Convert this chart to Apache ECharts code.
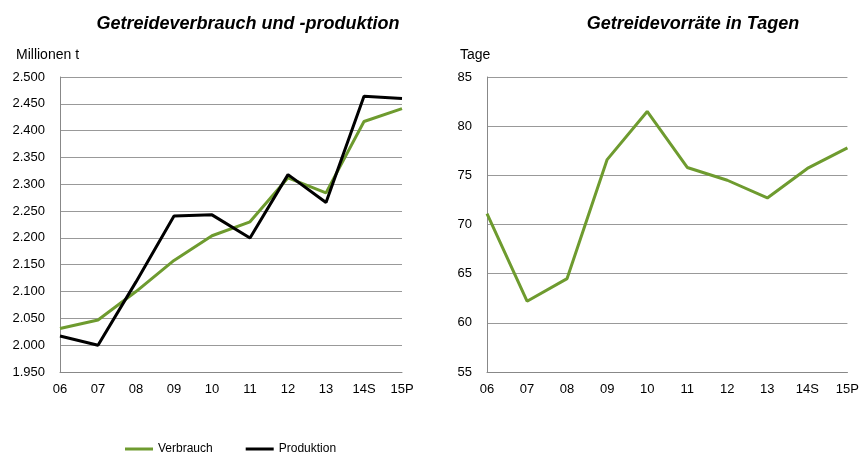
<!DOCTYPE html>
<html lang="de">
<head>
    <meta charset="UTF-8">
    <title>Getreide</title>
    <style>
        body { margin: 0; background: #fff; }
        #main { width: 862px; height: 457px; }
    </style>
</head>
<body>
<div id="main"></div>
<script src="https://cdn.jsdelivr.net/npm/echarts@6/dist/echarts.min.js"></script>
<script>
    // Daten
    var jahre = ['06', '07', '08', '09', '10', '11', '12', '13', '14S', '15P'];
    var verbrauch = [2.031, 2.047, 2.100, 2.158, 2.204, 2.230, 2.312, 2.284, 2.417, 2.441];
    var produktion = [2.017, 2.000, 2.118, 2.241, 2.243, 2.200, 2.318, 2.266, 2.464, 2.460];
    var vorraeteTage = [71.1, 62.2, 64.5, 76.6, 81.5, 75.8, 74.5, 72.7, 75.7, 77.8];

    var gruen = '#6e9b2f';
    var font = 'Liberation Sans, Arial, sans-serif';

    var chart = echarts.init(document.getElementById('main'));

    function xAchse(idx) {
        return {
            type: 'category', gridIndex: idx, data: jahre, boundaryGap: false,
            axisLine: { lineStyle: { color: '#888', width: 1 } },
            axisTick: { show: false },
            axisLabel: { color: '#000', fontFamily: font, fontSize: 13, margin: 11 }
        };
    }

    function yAchse(idx, min, max, interval, fmt, margin) {
        return {
            type: 'value', gridIndex: idx, min: min, max: max, interval: interval,
            axisLine: { show: true, lineStyle: { color: '#888', width: 1 } },
            axisTick: { show: false },
            splitLine: { lineStyle: { color: '#999', width: 1 } },
            axisLabel: { color: '#000', fontFamily: font, fontSize: 13, margin: margin, formatter: fmt }
        };
    }

    var titelStil = { fontSize: 18, fontWeight: 'bold', fontStyle: 'italic', color: '#000', fontFamily: font };
    var nameStil = { fontSize: 14, fontWeight: 'normal', color: '#000', fontFamily: font };

    var option = {
        animation: false,
        textStyle: { fontFamily: font },
        title: [
            { text: 'Getreideverbrauch und -produktion', left: 243, top: 10, textAlign: 'center', textStyle: titelStil },
            { text: 'Getreidevorräte in Tagen', left: 688, top: 10, textAlign: 'center', textStyle: titelStil },
            { text: 'Millionen t', left: 11, top: 43, textStyle: nameStil },
            { text: 'Tage', left: 455, top: 43, textStyle: nameStil }
        ],
        legend: {
            left: 120, top: 438, icon: 'rect', itemWidth: 28, itemHeight: 3, itemGap: 33,
            textStyle: { fontSize: 12, color: '#000', fontFamily: font },
            data: ['Verbrauch', 'Produktion']
        },
        grid: [
            { left: 60, right: 460, top: 77, bottom: 85 },
            { left: 487, right: 14, top: 77, bottom: 85 }
        ],
        xAxis: [xAchse(0), xAchse(1)],
        yAxis: [
            yAchse(0, 1.95, 2.5, 0.05, function (v) { return v.toFixed(3); }, 15),
            yAchse(1, 55, 85, 5, '{value}', 15)
        ],
        series: [
            { name: 'Verbrauch', type: 'line', xAxisIndex: 0, yAxisIndex: 0, data: verbrauch,
              symbol: 'none', lineStyle: { color: gruen, width: 3 }, itemStyle: { color: gruen } },
            { name: 'Produktion', type: 'line', xAxisIndex: 0, yAxisIndex: 0, data: produktion,
              symbol: 'none', lineStyle: { color: '#000', width: 3 }, itemStyle: { color: '#000' } },
            { name: 'Tage', type: 'line', xAxisIndex: 1, yAxisIndex: 1, data: vorraeteTage,
              symbol: 'none', lineStyle: { color: gruen, width: 3 }, itemStyle: { color: gruen } }
        ]
    };

    option && chart.setOption(option);
</script>
</body>
</html>
